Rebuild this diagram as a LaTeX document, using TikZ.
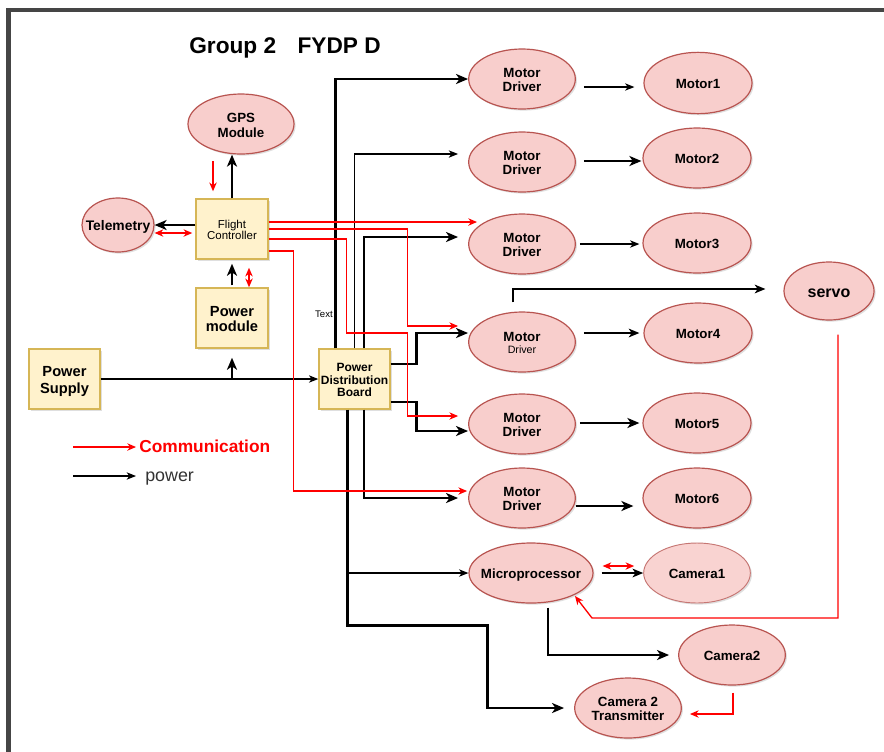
\documentclass[tikz,border=0pt]{standalone}
\usepackage{fontspec}
\setmainfont{Liberation Sans}
\usetikzlibrary{arrows.meta,calc,shapes.geometric,shadows}
\definecolor{ellfill}{HTML}{F8CECC}
\definecolor{ellline}{HTML}{B85450}
\definecolor{boxfill}{HTML}{FFF2CC}
\definecolor{boxline}{HTML}{D6B656}
\definecolor{frameclr}{HTML}{454545}
\definecolor{comm}{HTML}{FF0000}
% centred multi-line label that does not widen its node; nudged down so the
% visible letters sit on the node centre rather than the strut box centre
\newcommand\ctext[1]{\makebox[0pt]{\raisebox{-2pt}[\height][\depth]{\begin{tabular}{@{}c@{}}#1\end{tabular}}}}

\begin{document}
\begin{tikzpicture}[x=0.75pt,y=-0.75pt,
  soft/.style={drop shadow={opacity=0.25,shadow xshift=1.2pt,shadow yshift=-1.2pt}},
  ell/.style={ellipse, draw=ellline, fill=ellfill, line width=0.9pt, inner sep=0pt,
    minimum width=80pt, minimum height=45pt, soft, font=\fontsize{10}{10.7}\selectfont\bfseries},
  blk/.style={rectangle, draw=boxline, fill=boxfill, line width=1.1pt, inner sep=0pt,
    minimum width=54pt, minimum height=45pt, soft},
  pwthick/.style={draw=black, line width=2pt, -{Stealth[length=9pt,width=7.5pt,inset=2.5pt]}},
  pwthin/.style={draw=black, line width=0.9pt, -{Stealth[length=7pt,width=5.5pt,inset=2pt]}},
  pwmid/.style={draw=black, line width=1.3pt, -{Stealth[length=8pt,width=6.5pt,inset=2.2pt]}},
  commline/.style={draw=comm, line width=1pt, -{Stealth[length=6.5pt,width=5.5pt,inset=2pt]}},
  commboth/.style={draw=comm, line width=1pt,
    {Stealth[length=6.5pt,width=5.5pt,inset=2pt]}-{Stealth[length=6.5pt,width=5.5pt,inset=2pt]}},
]
\useasboundingbox (0,0) rectangle (884,751);
\fill[white] (0,0) rectangle (884,751);

% page frame
\draw[frameclr, line width=3.6pt] (8.5,760) -- (8.5,10) -- (890,10);

% title
\node[font=\fontsize{17}{20}\selectfont\bfseries] (title) at (285,48) {Group 2\hspace{16pt}FYDP D};

% flight electronics
\node[ell, minimum width=79.5pt, font=\fontsize{10}{11.2}\selectfont\bfseries] (gps) at (241,124) {\ctext{GPS\\Module}};
\node[ell, minimum width=54pt, minimum height=40.5pt, font=\fontsize{10.4}{11}\selectfont\bfseries] (tele) at (118,225) {\ctext{Telemetry}};
\node[blk, font=\fontsize{8.6}{8.2}\selectfont] (fc) at (232,229) {\ctext{Flight\\Controller}};
\node[blk, font=\fontsize{11}{11.5}\selectfont\bfseries] (pm) at (232,318) {\ctext{Power\\module}};
\node[blk, minimum width=53.25pt, font=\fontsize{11}{12.2}\selectfont\bfseries] (ps) at (64.5,379) {\ctext{Power\\Supply}};
\node[blk, minimum width=53.25pt, font=\fontsize{9}{9.2}\selectfont\bfseries] (pdb) at (354.5,379) {\ctext{Power\\Distribution\\Board}};

% motor drivers
\node[ell] (md1) at (522,79) {\ctext{Motor\\Driver}};
\node[ell] (md2) at (522,162) {\ctext{Motor\\Driver}};
\node[ell] (md3) at (522,244) {\ctext{Motor\\Driver}};
\node[ell] (md4) at (522,342) {\ctext{Motor\\[-1.5pt]{\fontsize{8}{9}\selectfont\mdseries Driver}}};
\node[ell] (md5) at (522,424) {\ctext{Motor\\Driver}};
\node[ell] (md6) at (522,498) {\ctext{Motor\\Driver}};

% motors
\node[ell, minimum width=81pt, minimum height=46pt] (m1) at (698,83) {\ctext{Motor1}};
\node[ell, minimum width=81pt] (m2) at (697,158) {\ctext{Motor2}};
\node[ell, minimum width=81pt] (m3) at (697,243) {\ctext{Motor3}};
\node[ell, minimum width=81pt] (m4) at (698,333) {\ctext{Motor4}};
\node[ell, minimum width=81pt] (m5) at (697,423) {\ctext{Motor5}};
\node[ell, minimum width=81pt] (m6) at (697,498) {\ctext{Motor6}};

% servo and camera chain
\node[ell, minimum width=67.5pt, minimum height=43.5pt, font=\fontsize{12}{13}\selectfont\bfseries] (servo) at (829,291) {\ctext{servo}};
\node[ell, minimum width=93pt] (mp) at (531,573) {\ctext{Microprocessor}};
\node[ell, draw=ellline!80, fill=ellfill!90, line width=0.7pt] (cam1) at (697,573) {\ctext{Camera1}};
\node[ell] (cam2) at (732,655) {\ctext{Camera2}};
\node[ell] (ctx) at (628,708) {\ctext{Camera 2\\Transmitter}};

% legend
\coordinate (lgA) at (73,447);
\coordinate (lgB) at (136,447);
\draw[commline] (lgA) -- (lgB);
\node[anchor=base west, text=comm, font=\fontsize{13}{15}\selectfont\bfseries, inner sep=0pt] (lgcomm) at (139,452) {Communication};
\coordinate (lgC) at (73,476);
\coordinate (lgD) at (136,476);
\draw[pwthin] (lgC) -- (lgD);
\node[anchor=base west, text=black!80, font=\fontsize{13.4}{15}\selectfont, inner sep=0pt] (lgpow) at (145,481) {power};

% flight controller links
\draw[pwthick] (fc.north) -- (fc.north |- gps.south);
\coordinate (gpsA) at ($(fc.north)+(-19,-37)$);
\coordinate (gpsB) at ($(fc.north)+(-19,-7)$);
\draw[commline] (gpsA) -- (gpsB);
\draw[pwthick] ($(fc.west)+(0,-4)$) -- (tele.east);
\draw[commboth] ($(tele.east)+(0,8)$) -- ($(fc.west)+(-3,4)$);
\draw[pwthick] ($(pm.north)+(0,-2)$) -- ($(fc.south)+(0,4)$);
\draw[commboth] ($(fc.south)+(17,8)$) -- ($(pm.north)+(17,0)$);

% supply
\draw[pwthin] (ps) -- (pdb);
\coordinate (pmfeed) at ($(pm.south)+(0,29)$);
\draw[pwthick] (pmfeed) -- ($(pm.south)+(0,9)$);

% distribution board to drivers
\draw[pwthick] ($(pdb.north west)+(17,0)$) |- (md1.west);
\draw[pwthin] (pdb.north) |- ($(md2.west)+(-10,-8)$);
\draw[pwthick] ($(pdb.north)+(9.5,0)$) |- ($(md3.west)+(-10,-7)$);
\draw[pwthick] ($(pdb.east)+(0,-15)$) -- ++(26,0) |- ($(md4.west)+(0,-9)$);
\draw[pwthick] ($(pdb.east)+(0,23)$) -- ++(26,0) |- ($(md5.west)+(0,7)$);
\draw[pwthick] ($(pdb.south)+(9.5,0)$) |- ($(md6.west)+(-10,0)$);
\coordinate (pdbS) at ($(pdb.south)+(-7,0)$);
\coordinate (pdbJ) at ($(pdbS)+(0,216)$);
\draw[pwthick] (pdbS) -- (pdbJ) -- ++(140,0) |- ($(ctx.west)+(-10,0)$);
\draw[pwthin] (pdbS |- mp.west) -- (mp.west);

% microprocessor outputs
\draw[pwthick] ($(mp.south)+(17,4)$) |- ($(cam2.west)+(-9,0)$);
\draw[pwmid] ($(mp.east)+(8,0)$) -- (cam1.west);
\draw[commboth] ($(mp.east)+(9,-7)$) -- ($(cam1.west)+(-9,-7)$);

% servo
\draw[pwmid] ($(md4.north)+(-9,-9)$) |- ($(servo.west)+(-18,-2)$);
\draw[commline] ($(servo.south)+(9,14)$) |- ($(mp)+(61,45)$) -- ($(mp)+(44,23)$);
\draw[commline] ($(cam2.south)+(1,7)$) |- ($(ctx.east)+(8,6)$);

% control lines from the flight controller
\draw[commline] ($(fc.east)+(0,-7)$) -- ($(md3)+(-45,-22)$);
\draw[commline] (fc.east) -- ++(139,0) |- ($(md4.west)+(-10,-16)$);
\draw[commline] ($(fc.east)+(0,10)$) -- ++(78,0) -- ++(0,94) -- ++(61,0) |- ($(md5.west)+(-10,-8)$);
\draw[commline] ($(fc.east)+(0,22)$) -- ++(25,0) |- ($(md6.west)+(-1,-7)$);

% drivers to motors
\draw[pwthin] ($(md1.east)+(8,8)$) -- ($(m1.west)+(-9,4)$);
\draw[pwthick] ($(md2.east)+(8,-1)$) -- ($(m2.west)+(-1,3)$);
\draw[pwthin] ($(md3.east)+(4,0)$) -- ($(m3.west)+(-3,1)$);
\draw[pwmid] ($(md4.east)+(8,-9)$) -- ($(m4.west)+(-4,0)$);
\draw[pwthick] ($(md5.east)+(4,-1)$) -- ($(m5.west)+(-3,0)$);
\draw[pwthick] ($(md6.east)+(0,8)$) -- ($(m6.west)+(-9,8)$);

% stray label beside the feed lines
\node[font=\fontsize{7.2}{8}\selectfont, anchor=east, inner sep=0pt] (txt) at (333,314) {Text};
\end{tikzpicture}
\end{document}
